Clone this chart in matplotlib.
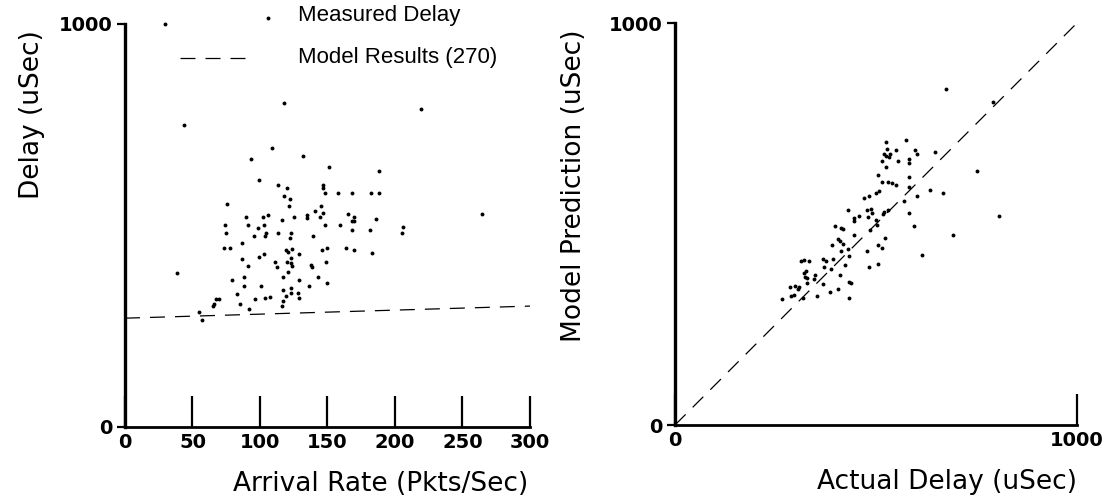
import matplotlib
matplotlib.use("Agg")
import matplotlib.pyplot as plt
from matplotlib.ticker import FixedLocator

plt.rcParams['font.family'] = ['Liberation Sans', 'DejaVu Sans']

# ---- Left panel: measured delay vs arrival rate ----
rate = [29.6, 43.7, 118, 38.8, 108.6, 93, 132, 151, 188, 99, 113, 120, 118, 122, 121.5,
        75.6, 147, 146.4, 148.4, 158, 168, 182, 188, 145.4, 141, 144.4, 146.4, 134.6, 135,
        125, 116, 90, 102.5, 105.7, 74, 91, 98.3, 102.7, 74.8, 95.8, 104.4, 103.5, 113.6,
        123, 122, 139, 148, 159, 165, 168, 170, 168, 170, 181.5, 185.7, 205.7, 205,
        73.3, 77.5, 86.7, 86.4, 91, 99, 102.7, 119, 120.5, 124, 128.9, 123, 123, 124, 120.2,
        110.9, 112.3, 137.5, 138.5, 145.7, 150, 149, 164, 170, 182.7, 79, 88, 88.4, 101,
        117, 120.5, 117, 122.7, 122.7, 119, 117, 116, 129, 136.5, 143, 149.4, 128, 129,
        83, 85.4, 96.3, 92, 104, 107.4, 65.9, 65.4, 67.4, 69.4, 54.6, 57, 219, 264.4]
delay = [1000, 749, 803, 383, 692, 665, 673, 646, 634, 613, 600, 592, 574, 566, 548,
         553, 600, 593, 580, 580, 580, 580, 580, 548, 535, 522, 530, 526, 518,
         522, 514, 522, 522, 526, 500, 500, 495, 500, 482, 475, 481, 474, 482,
         482, 470, 475, 501, 501, 528, 512, 522, 489, 510, 489, 515, 497, 482,
         443, 443, 456, 417, 400, 423, 429, 439, 433, 442, 429, 420, 408, 400, 410,
         410, 398, 402, 398, 438, 443, 410, 443, 438, 431, 364, 371, 351, 351,
         371, 384, 340, 344, 332, 325, 313, 299, 365, 351, 371, 358, 332, 319,
         331, 305, 318, 294, 319, 322, 305, 299, 318, 318, 286, 265, 789, 528]
model_rate = [0, 300]
model_delay = [270, 300]
left_xticks = [0, 50, 100, 150, 200, 250, 300]
left_xlabels = ['0', '50', '100', '150', '200', '250', '300']
left_yticks = [0, 1000]
left_ylabels = ['0', '1000']

# ---- Right panel: model prediction vs actual delay ----
actual = [673, 791, 575, 524, 528, 550, 596, 601, 647.5, 519.5, 526, 532, 535, 515, 524,
          556, 582, 582, 751, 504, 582, 515, 529, 539, 550, 582, 634, 667, 602, 508, 499,
          483, 471, 569, 529, 520, 518, 582, 805, 431, 477, 488, 489, 480, 499, 446, 445,
          459, 503, 486, 595, 692, 397.5, 413, 418, 445, 522, 405, 411, 391, 418, 504, 514,
          430, 432, 477, 413, 614, 394, 376, 369, 370, 332.5, 322, 313, 424, 483, 504,
          327, 320, 322.5, 328, 349, 345, 411.5, 389, 432, 437, 368, 329, 307.5, 305,
          285, 299, 295, 288, 385, 405, 353, 318, 267, 432]
predicted = [836, 804, 709, 704, 686, 683, 683, 674, 680, 675, 668, 666, 675, 656, 643,
             658, 661, 651, 631, 623, 618, 605, 605, 602, 596, 593, 585, 577, 570, 581, 577,
             570, 565, 557, 535, 530, 524, 527, 519, 534, 536, 537, 527, 517, 510, 514, 508,
             519, 497, 485, 494, 473, 495, 489, 487, 473, 466, 462, 457, 448, 450, 447, 441,
             437, 421, 433, 433, 422, 412, 409, 414, 394, 408, 411, 408, 398, 393, 400,
             384, 378, 368, 366, 373, 364, 372, 389, 357, 353, 351, 353, 344, 338,
             344, 346, 324, 320, 330, 338, 322, 317, 314, 315]
ideal = [0, 1000]
right_ticks = [0, 1000]
right_labels = ['0', '1000']

fig = plt.figure(figsize=(11.12, 5.04), dpi=100)
axL = fig.add_axes([0.1124, 0.1528, 0.3642, 0.7996])
axR = fig.add_axes([0.6070, 0.1567, 0.3615, 0.7976])

LBL_FONT = dict(family=['DejaVu Sans'], fontsize=19)
TCK_FONT = dict(family=['DejaVu Sans'], fontsize=14, fontweight='bold')
LEG_FONT = dict(family=['Liberation Sans'], fontsize=16)
MS = 2.8

def frame(ax):
    for s in ['top', 'right']:
        ax.spines[s].set_visible(False)
    ax.spines['left'].set_linewidth(2.4)
    ax.spines['bottom'].set_linewidth(2.0)

# Left panel
axL.plot(rate, delay, 'o', color='black', ms=MS, mew=0, clip_on=False)
axL.plot(model_rate, model_delay, color='black', lw=0.9, ls=(0, (12, 8)))
axL.set_xlim(0, 300)
axL.set_ylim(0, 1000)
axL.set_xticks(left_xticks, labels=left_xlabels, **TCK_FONT)
axL.set_yticks(left_yticks, labels=left_ylabels, **TCK_FONT)
axL.xaxis.set_minor_locator(FixedLocator([0]))
axL.yaxis.set_minor_locator(FixedLocator([1000]))
axL.tick_params(axis='x', which='major', direction='in', length=22, width=1.6, pad=4)
axL.tick_params(axis='x', which='minor', direction='out', length=5, width=1.6)
axL.tick_params(axis='y', which='major', direction='out', length=6, width=1.6, pad=3)
axL.tick_params(axis='y', which='minor', direction='in', length=22, width=1.6)
axL.set_xlabel('Arrival Rate (Pkts/Sec)', loc='right', **LBL_FONT)
axL.set_ylabel('Delay (uSec)', loc='top', **LBL_FONT)
axL.xaxis.set_label_coords(0.995, -0.108)
axL.yaxis.set_label_coords(-0.198, 0.985)
frame(axL)

# manual legend
axL.plot([0.353], [1.015], 'o', color='black', ms=MS, mew=0, transform=axL.transAxes, clip_on=False)
axL.text(0.427, 1.02, 'Measured Delay', va='center', ha='left', transform=axL.transAxes, **LEG_FONT)
axL.plot([0.136, 0.318], [0.916, 0.916], color='black', lw=0.9, ls=(0, (12, 8)),
         transform=axL.transAxes, clip_on=False)
axL.text(0.427, 0.918, 'Model Results (270)', va='center', ha='left', transform=axL.transAxes, **LEG_FONT)

# Right panel
axR.plot(actual, predicted, 'o', color='black', ms=MS, mew=0)
axR.plot(ideal, ideal, color='black', lw=0.9, ls=(0, (12, 8)))
axR.set_xlim(0, 1000)
axR.set_ylim(0, 1000)
axR.set_xticks(right_ticks, labels=right_labels, **TCK_FONT)
axR.set_yticks(right_ticks, labels=right_labels, **TCK_FONT)
axR.xaxis.set_minor_locator(FixedLocator([0]))
axR.yaxis.set_minor_locator(FixedLocator([1000]))
axR.tick_params(axis='x', which='major', direction='in', length=22, width=1.6, pad=4)
axR.tick_params(axis='x', which='minor', direction='out', length=5, width=1.6)
axR.tick_params(axis='y', which='major', direction='out', length=6, width=1.6, pad=3)
axR.tick_params(axis='y', which='minor', direction='in', length=21, width=1.6)
axR.set_xlabel('Actual Delay (uSec)', loc='right', **LBL_FONT)
axR.set_ylabel('Model Prediction (uSec)', loc='top', **LBL_FONT)
axR.xaxis.set_label_coords(1.0, -0.11)
axR.yaxis.set_label_coords(-0.219, 0.983)
frame(axR)

fig.savefig('out.png', dpi=100)
